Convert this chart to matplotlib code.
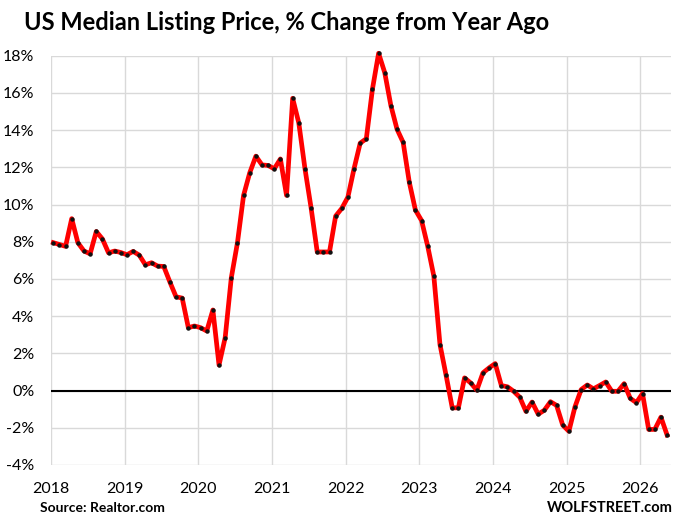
import matplotlib
matplotlib.use("Agg")
import matplotlib.pyplot as plt
import numpy as np

years = [2018, 2019, 2020, 2021, 2022, 2023, 2024, 2025, 2026]
y_ticks = [-4, -2, 0, 2, 4, 6, 8, 10, 12, 14, 16, 18]

start_year = 2018
values = [
    # 2018
    7.95, 7.85, 7.75, 9.24, 7.95, 7.5, 7.35, 8.55, 8.15, 7.4, 7.5, 7.42,
    # 2019
    7.3, 7.48, 7.28, 6.76, 6.87, 6.69, 6.67, 5.83, 5.04, 4.97, 3.38, 3.47,
    # 2020
    3.38, 3.2, 4.33, 1.37, 2.84, 6.06, 7.94, 10.49, 11.7, 12.6, 12.13, 12.1,
    # 2021
    11.92, 12.45, 10.49, 15.71, 14.38, 11.93, 9.82, 7.45, 7.45, 7.45, 9.38, 9.79,
    # 2022
    10.4, 11.93, 13.3, 13.54, 16.21, 18.13, 17.09, 15.32, 14.05, 13.34, 11.2, 9.7,
    # 2023
    9.14, 7.76, 6.15, 2.47, 0.81, -0.93, -0.93, 0.68, 0.41, 0.02, 0.95, 1.22,
    # 2024
    1.45, 0.27, 0.2, -0.04, -0.36, -1.12, -0.62, -1.27, -1.06, -0.6, -0.8, -1.86,
    # 2025
    -2.19, -0.87, 0.05, 0.3, 0.09, 0.27, 0.46, -0.04, -0.04, 0.37, -0.42, -0.65,
    # 2026
    -0.16, -2.09, -2.09, -1.43, -2.39,
]

x = [start_year + (i + 0.375) / 12 for i in range(len(values))]

plt.rcParams['font.family'] = ['Lato', 'DejaVu Sans']

fig = plt.figure(figsize=(6.8, 5.23), dpi=100)
ax = fig.add_axes([0.075, 0.111, 0.912, 0.7825])

ax.set_xlim(2018, 2026.42)
ax.set_ylim(-4, 18)

for yv in y_ticks:
    ax.axhline(yv, color='#d9d9d9', lw=1.0, zorder=1)
for xv in years:
    ax.axvline(xv, color='#d9d9d9', lw=1.0, zorder=1)
ax.axhline(0, color='black', lw=1.5, zorder=2)

ax.plot(x, values, color='#ff0000', lw=3.4, zorder=3,
        solid_joinstyle='round', clip_on=False)
ax.plot(x, values, linestyle='none', marker='o', markersize=2.2,
        color='#111111', zorder=4, clip_on=False)

for s in ax.spines.values():
    s.set_visible(False)

ax.set_xticks(years)
ax.set_xticklabels([str(y) for y in years], fontsize=11.5)
ax.set_yticks(y_ticks)
ax.set_yticklabels([f"{v}%" for v in y_ticks], fontsize=11.5)
ax.tick_params(length=0)
ax.tick_params(axis='y', pad=12)
ax.tick_params(axis='x', pad=12)

fig.text(0.035, 0.943, "US Median Listing Price, % Change from Year Ago",
         fontsize=17, fontweight='bold', ha='left', va='baseline')
fig.text(0.059, 0.021, "Source: Realtor.com", fontsize=10,
         fontweight='bold', ha='left', va='baseline')
fig.text(0.99, 0.021, "WOLFSTREET.com", fontsize=10.5,
         fontweight='bold', ha='right', va='baseline')

fig.savefig("out.png", dpi=100)
